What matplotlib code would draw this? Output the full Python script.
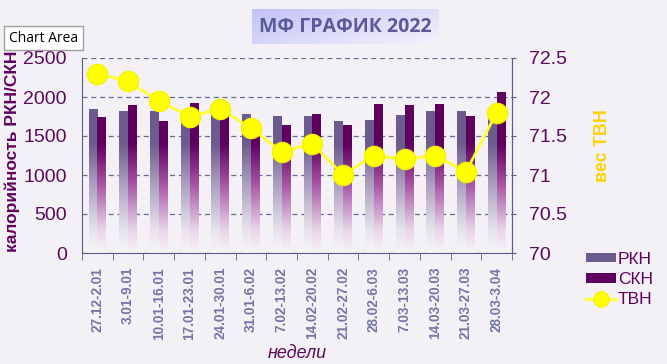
import numpy as np
import matplotlib
matplotlib.use('Agg')
import matplotlib.pyplot as plt
from matplotlib.colors import LinearSegmentedColormap
from matplotlib.patches import Patch
from matplotlib.lines import Line2D

plt.rcParams['font.family'] = ['Liberation Sans', 'DejaVu Sans']

weeks = ['27.12-2.01', '3.01-9.01', '10.01-16.01', '17.01-23.01', '24.01-30.01',
         '31.01-6.02', '7.02-13.02', '14.02-20.02', '21.02-27.02', '28.02-6.03',
         '7.03-13.03', '14.03-20.03', '21.03-27.03', '28.03-3.04']
rkn = [1846, 1808, 1808, 1760, 1820, 1782, 1744, 1744, 1692, 1705, 1769, 1808, 1808, 1750]
skn = [1735, 1885, 1680, 1923, 1790, 1667, 1632, 1770, 1641, 1910, 1885, 1910, 1744, 2064]
tvn = [72.3, 72.2, 71.95, 71.75, 71.85, 71.6, 71.3, 71.4, 71.0, 71.25, 71.2, 71.25, 71.04, 71.8]

bg = '#F3F1F5'
dark = '#5A0A5A'
axis_col = '#5F5A8A'
rkn_top = '#6C5B8E'
skn_top = '#5E005E'

cm_rkn = LinearSegmentedColormap.from_list('rkn', [(0, '#F7F5F8'), (0.15, '#E6E2EC'), (0.45, '#A99DBE'), (0.7, rkn_top), (1, rkn_top)])
cm_skn = LinearSegmentedColormap.from_list('skn', [(0, '#F7F3F7'), (0.15, '#E8D4E8'), (0.45, '#A550A3'), (0.7, skn_top), (1, skn_top)])

fig = plt.figure(figsize=(6.67, 3.64), dpi=100, facecolor=bg)
ax = fig.add_axes([82/667, 1-253/364, 430/667, 195/364])
ax.set_facecolor(bg)

x = np.arange(len(weeks))
w = 0.285
b1 = ax.bar(x - w/2, rkn, w, color='none', zorder=2)
b2 = ax.bar(x + w/2, skn, w, color='none', zorder=2)

# fill bars with vertical gradient (fades to white at the bottom)
for bars, cm in ((b1, cm_rkn), (b2, cm_skn)):
    for r in bars:
        x0, h, bw = r.get_x(), r.get_height(), r.get_width()
        f = np.linspace(h, 0, 200) / 2000.0
        ax.imshow(f.reshape(-1, 1), cmap=cm, vmin=0, vmax=1, aspect='auto',
                  extent=[x0, x0 + bw, 0, h], zorder=2, interpolation='bilinear')

ax.set_xlim(-0.5, len(weeks) - 0.5)
ax.set_ylim(0, 2500)
ax.set_yticks([0, 500, 1000, 1500, 2000, 2500])
ax.yaxis.grid(True, linestyle=(0, (4, 3)), color='#6A6A9A', linewidth=0.9)
ax.set_axisbelow(True)
ax.tick_params(axis='y', length=0, labelsize=14, labelcolor=dark, pad=11)
ax.set_xticks(x)
ax.set_xticklabels(weeks, rotation=90, fontsize=9.8, fontweight='bold', color='#7676A6')
ax.tick_params(axis='x', which='major', length=0, pad=10)
ax.set_xticks(np.arange(-0.5, len(weeks)), minor=True)
ax.tick_params(axis='x', which='minor', length=5, color=axis_col, direction='out')
for s in ('left', 'bottom', 'right'):
    ax.spines[s].set_color(axis_col)
ax.spines['top'].set_visible(False)
ax.set_ylabel('калорийность РКН/СКН', fontsize=12.5, fontweight='bold', color='#600060')
ax.yaxis.set_label_coords(-0.145, 0.52)
ax.set_xlabel('недели', fontsize=13, fontstyle='italic', color=dark, labelpad=4)

ax2 = ax.twinx()
ax2.plot(x, tvn, color='#FFFF30', linewidth=2, marker='o', markersize=14.5,
         markerfacecolor='#FFFF00', markeredgecolor='#F4F400', zorder=5)
ax2.set_ylim(70, 72.5)
ax2.set_yticks([70, 70.5, 71, 71.5, 72, 72.5])
ax2.set_yticklabels(['70', '70.5', '71', '71.5', '72', '72.5'])
ax2.tick_params(axis='y', length=3, color=axis_col, labelsize=14, labelcolor=dark, pad=9)
ax2.spines['top'].set_visible(False)
ax2.spines['right'].set_color(axis_col)
ax2.spines['left'].set_visible(False)
ax2.spines['bottom'].set_visible(False)
ax2.set_ylabel('вес ТВН', fontsize=13, fontweight='bold', color='#FFD200')
ax2.yaxis.set_label_coords(1.19, 0.55)

handles = [Patch(facecolor=rkn_top), Patch(facecolor=skn_top),
           Line2D([], [], color='#FFFF30', linewidth=2, marker='o', markersize=11,
                  markerfacecolor='#FFFF00', markeredgecolor='#F4F400')]
leg = fig.legend(handles, ['РКН', 'СКН', 'ТВН'], loc='upper left',
                 bbox_to_anchor=(586/667, 1-252/364), frameon=False, fontsize=12.5,
                 borderpad=0, borderaxespad=0,
                 handlelength=1.75, handleheight=0.45, handletextpad=0.1, labelspacing=0.3,
                 labelcolor='#600060')

# title box with gradient
tax = fig.add_axes([252/667, 1-44/364, 187/667, 35/364])
gx = np.linspace(0, 1, 100)
gy = np.linspace(0, 1, 30)
grad = 0.6 * gx[None, :] + 0.4 * gy[:, None]
tax.imshow(grad, cmap=LinearSegmentedColormap.from_list('t', ['#C2C2F8', '#F4F2FA']),
           aspect='auto', extent=[0, 1, 0, 1], origin='upper')
tax.set_axis_off()
tax.text(0.5, 0.5, 'МФ ГРАФИК 2022', ha='center', va='center', fontsize=14,
         fontweight='bold', color='#5A5A9A', family=['Open Sans', 'DejaVu Sans'])

fig.text(9/667, 1-38/364, 'Chart Area', fontsize=10, color='black', va='center',
         family=['Open Sans', 'DejaVu Sans'],
         bbox=dict(boxstyle='square,pad=0.35', facecolor='white', edgecolor='#A0A0A0'))

fig.savefig('out.png', dpi=100, facecolor=bg)
